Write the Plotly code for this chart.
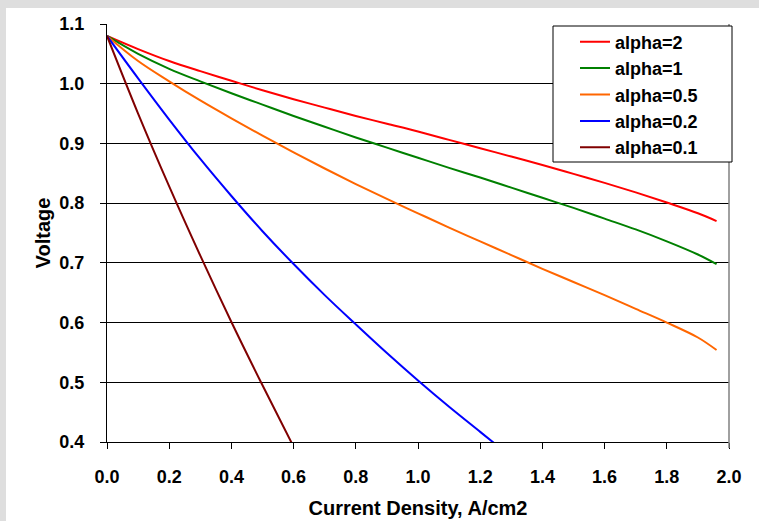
import plotly.graph_objects as go

# ---- data ----
x_main = [0.0, 0.1, 0.2, 0.3, 0.4, 0.5, 0.6, 0.7, 0.8, 0.9, 1.0,
          1.1, 1.2, 1.3, 1.4, 1.5, 1.6, 1.7, 1.8, 1.9, 1.96]
v_alpha2 = [1.08, 1.058, 1.038, 1.021, 1.005, 0.989, 0.974, 0.960, 0.946, 0.933, 0.920,
            0.906, 0.892, 0.878, 0.864, 0.849, 0.834, 0.818, 0.801, 0.783, 0.770]
v_alpha1 = [1.08, 1.050, 1.025, 1.004, 0.984, 0.965, 0.946, 0.928, 0.910, 0.893, 0.876,
            0.859, 0.843, 0.826, 0.809, 0.792, 0.774, 0.756, 0.736, 0.714, 0.698]
v_alpha05 = [1.08, 1.038, 1.004, 0.972, 0.942, 0.913, 0.885, 0.858, 0.832, 0.807, 0.783,
             0.759, 0.736, 0.713, 0.690, 0.668, 0.646, 0.623, 0.600, 0.575, 0.554]
x_alpha02 = [0.0, 0.1, 0.2, 0.3, 0.4, 0.5, 0.6, 0.7, 0.8, 0.9, 1.0, 1.1, 1.2, 1.25]
v_alpha02 = [1.08, 1.009, 0.940, 0.874, 0.812, 0.753, 0.698, 0.646, 0.597, 0.549, 0.503,
             0.459, 0.417, 0.396]
x_alpha01 = [0.0, 0.1, 0.2, 0.3, 0.4, 0.5, 0.6]
v_alpha01 = [1.08, 0.950, 0.828, 0.712, 0.601, 0.495, 0.392]

series_names = ["alpha=2", "alpha=1", "alpha=0.5", "alpha=0.2", "alpha=0.1"]
x_ticks = [0.0, 0.2, 0.4, 0.6, 0.8, 1.0, 1.2, 1.4, 1.6, 1.8, 2.0]
y_ticks = [0.4, 0.5, 0.6, 0.7, 0.8, 0.9, 1.0, 1.1]
x_title = "Current Density, A/cm2"
y_title = "Voltage"

# ---- styling ----
colors = ["#FF0000", "#008000", "#FF6600", "#0000FF", "#800000"]
FONT = "Liberation Sans, Arial, sans-serif"

xs = [x_main, x_main, x_main, x_alpha02, x_alpha01]
ys = [v_alpha2, v_alpha1, v_alpha05, v_alpha02, v_alpha01]

fig = go.Figure()
for name, x, y, c in zip(series_names, xs, ys, colors):
    fig.add_trace(go.Scatter(x=x, y=y, mode="lines", name=name,
                             line=dict(color=c, width=2, shape="spline", smoothing=1.0)))

# figure sits at (6, 8) in the window; gray page shows around it
W, H = 753, 513
ML, MR, MT, MB = 101, 30, 16, 79
pw, ph = W - ML - MR, H - MT - MB

def px(xp):
    return (xp - ML) / pw

def py(yp):
    return (H - MB - yp) / ph

shapes = [
    # right border of plot area (gray)
    dict(type="line", xref="paper", yref="paper", x0=1, x1=1, y0=py(H - MB + 6), y1=1,
         line=dict(color="#808080", width=1.5)),
    # legend box
    dict(type="rect", xref="paper", yref="paper", x0=px(547), x1=px(726),
         y0=py(154), y1=py(18), fillcolor="white", line=dict(color="black", width=1)),
]

fig.update_layout(
    width=W, height=H,
    margin=dict(l=ML, r=MR, t=MT, b=MB, autoexpand=False),
    paper_bgcolor="white",
    plot_bgcolor="white",
    font=dict(family=FONT, color="black", size=18, weight="bold"),
    shapes=shapes,
    showlegend=True,
    legend=dict(x=px(569), y=py(15.5), xanchor="left", yanchor="top",
                bgcolor="rgba(0,0,0,0)", borderwidth=0,
                font=dict(family=FONT, size=18, color="black", weight="bold"),
                tracegroupgap=0),
    xaxis=dict(range=[0, 2.0], tickvals=x_ticks, tickformat=".1f",
               showgrid=False, zeroline=False,
               showline=True, linecolor="black", linewidth=1, mirror=False,
               ticks="outside", ticklen=6, tickcolor="black", tickwidth=1,
               tickfont=dict(family=FONT, size=18, weight="bold"),
               ticklabelstandoff=12,
               title=dict(text=x_title, standoff=15,
                          font=dict(family=FONT, size=20, weight="bold"))),
    yaxis=dict(range=[0.4, 1.1], tickvals=y_ticks, tickformat=".1f",
               showgrid=True, gridcolor="black", gridwidth=1, zeroline=False,
               showline=True, linecolor="black", linewidth=1,
               ticks="outside", ticklen=6, tickcolor="black", tickwidth=1,
               tickfont=dict(family=FONT, size=18, weight="bold"),
               ticklabelstandoff=12,
               title=dict(text=y_title, standoff=3,
                          font=dict(family=FONT, size=20, weight="bold"))),
)

fig.write_html(
    "out.html",
    post_script="document.body.style.margin='8px 0 0 6px';"
                "document.body.style.background='#DEDEDE';"
                "document.documentElement.style.background='#DEDEDE';",
)
